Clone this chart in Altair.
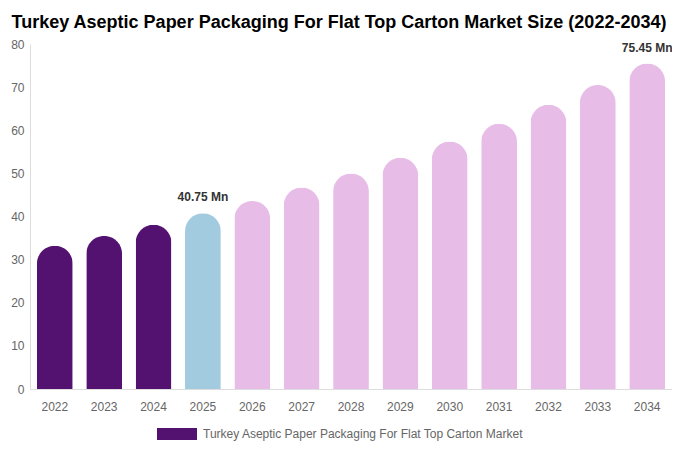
import altair as alt
import pandas as pd

years = ["2022", "2023", "2024", "2025", "2026", "2027", "2028", "2029", "2030", "2031", "2032", "2033", "2034"]
values = [33.2, 35.5, 38.1, 40.75, 43.6, 46.7, 50.0, 53.6, 57.4, 61.5, 65.9, 70.5, 75.45]
series_name = "Turkey Aseptic Paper Packaging For Flat Top Carton Market"
groups = [series_name] * 3 + ["Base"] + ["Forecast"] * 9
group_domain = [series_name, "Base", "Forecast"]
group_colors = ["#541270", "#a3cbe0", "#e7bde8"]
labels = ["", "", "", "40.75 Mn", "", "", "", "", "", "", "", "", "75.45 Mn"]

df = pd.DataFrame({"year": years, "value": values, "group": groups, "label": labels})

FONT = "Liberation Sans"

x = alt.X("year:N", title=None,
          scale=alt.Scale(paddingInner=0.275, paddingOuter=0.14),
          axis=alt.Axis(labelAngle=0, ticks=False, domainColor="#dddddd",
                        labelColor="#666666", labelFontSize=12, labelPadding=12,
                        labelFont=FONT))
y = alt.Y("value:Q", title=None,
          scale=alt.Scale(domain=[0, 80]),
          axis=alt.Axis(values=[0, 10, 20, 30, 40, 50, 60, 70, 80], grid=False, ticks=False,
                        domainColor="#dddddd", labelColor="#666666", labelFontSize=12,
                        labelPadding=6, labelFont=FONT))

bars = alt.Chart(df).mark_bar(cornerRadiusTopLeft=18, cornerRadiusTopRight=18).encode(
    x=x, y=y,
    color=alt.Color("group:N",
                    scale=alt.Scale(domain=group_domain, range=group_colors),
                    legend=alt.Legend(values=[series_name], title=None, orient="none",
                                      legendX=127, legendY=370,
                                      symbolType="M-1,-0.3L1,-0.3L1,0.3L-1,0.3Z",
                                      symbolSize=1600, symbolStrokeWidth=0,
                                      labelOffset=6,
                                      labelColor="#666666", labelFontSize=12,
                                      labelFont=FONT, labelLimit=600)),
)

text = alt.Chart(df).mark_text(dy=-9, baseline="bottom", fontWeight="bold", fontSize=12,
                               color="#333333", font=FONT).encode(
    x=x, y=y, text="label:N")

chart = alt.layer(bars, text).properties(
    width=642, height=345,
    title=alt.Title(
        "Turkey Aseptic Paper Packaging For Flat Top Carton Market Size (2022-2034)",
        fontSize=18, fontWeight="bold", color="#000000", font=FONT,
        anchor="middle", offset=6, dx=-12),
    padding={"left": 22, "top": 36, "right": 0, "bottom": 56},
    autosize=alt.AutoSizeParams(type="none"),
).configure_view(stroke=None)

chart.save("out.html", embed_options={"renderer": "svg", "actions": False})
